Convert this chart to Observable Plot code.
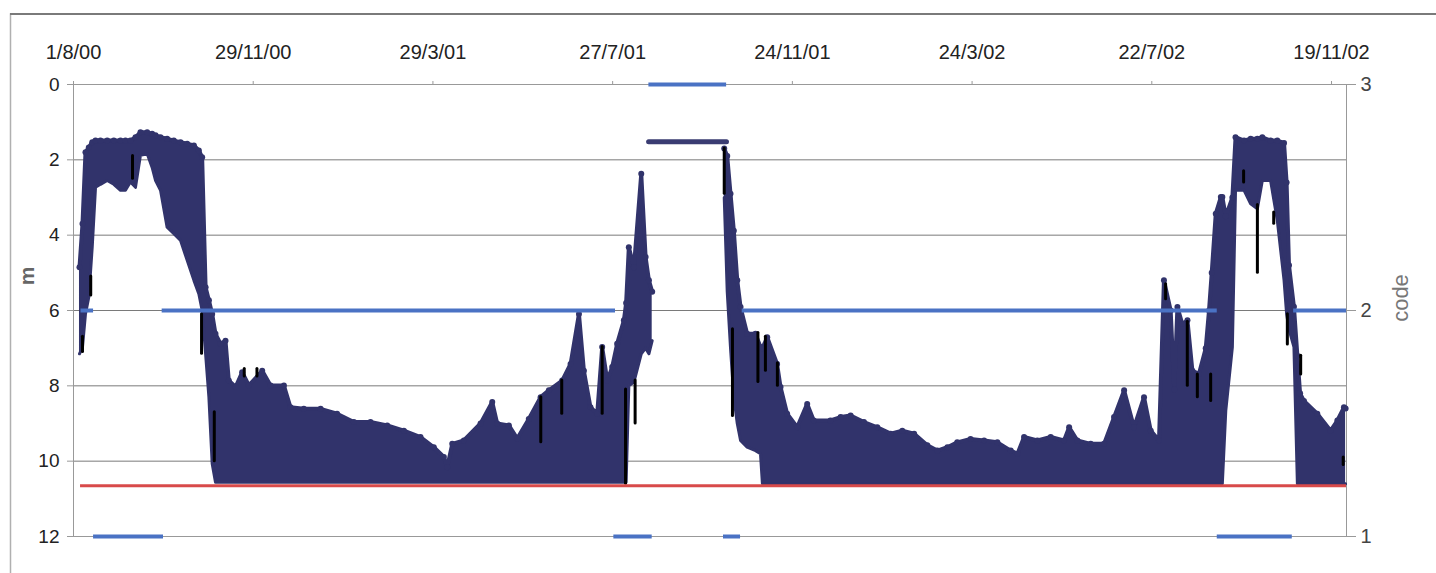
<!DOCTYPE html>
<html>
<head>
<meta charset="utf-8">
<script src="https://cdn.jsdelivr.net/npm/d3@7"></script>
<script src="https://cdn.jsdelivr.net/npm/@observablehq/plot@0.6"></script>
<style>
  html, body { margin: 0; padding: 0; background: #fff; }
  #chart { position: relative; width: 1436px; height: 573px; }
</style>
</head>
<body>
<div id="chart"></div>
<script>
// ---- data (days since 1/8/00, depth in m) ----
const tickLabels = ["1/8/00", "29/11/00", "29/3/01", "27/7/01", "24/11/01", "24/3/02", "22/7/02", "19/11/02"];
const yTicks = [0, 2, 4, 6, 8, 10, 12];
const codeTicks = [1, 2, 3];

const bandDay = [4, 6, 8, 10.2, 12.5, 14.7, 18, 22.5, 26.9, 31.4, 34.7, 38, 41.4, 44.7, 49.2, 52.5, 54.8, 58.1, 62.5, 67, 71.5, 75.9, 80.4, 83.7, 85.9, 88.2, 90.4, 92.6, 94.8, 98.2, 101.5, 103.7, 108.2, 112.6, 117.1, 126, 131.6, 140.5, 144.9, 153.8, 165, 176, 187.2, 198.3, 209.5, 220.6, 231.7, 240.6, 247.3, 249.5, 252.9, 260.6, 271.8, 279.6, 282.9, 290.7, 296.3, 304, 311.9, 317.4, 326.3, 331.9, 337.5, 340.8, 345.2, 349.7, 353, 356.4, 359.7, 363, 367.5, 369, 370.8, 374.2, 379.1, 382, 384.2, 386.4,
  410,
  434.5, 436.5, 438.7, 440.9, 443.2, 445.4, 449.8, 455.4, 458.7, 460, 463.2, 469.8, 472.1, 476.5, 483.2, 489.9, 494.3, 505.4, 512.2, 518.9, 527.8, 536.7, 545.6, 553.4, 561.3, 570.1, 576.8, 583.5, 590.1, 599, 608, 616.9, 625.8, 630.3, 634.7, 643.6, 652.5, 661.4, 664.8, 670.3, 679.2, 688.1, 694.8, 701.5, 708.1, 714.8, 719.3, 724.8, 728.1, 732.6, 735, 737.1, 740.4, 743.8, 747.1, 751.5, 756, 758.2, 760, 762.7, 766.1, 767.1, 769.4, 773.8, 775.9, 781.6, 786, 790.5, 793.8, 799.3, 803.8, 808.3, 810, 811.6, 814.9, 817.2, 819, 821.6, 830.5, 839.4, 843.9, 848.3, 849.4];
const bandTop = [4.85, 3.70, 1.80, 1.67, 1.53, 1.49, 1.49, 1.49, 1.49, 1.49, 1.49, 1.49, 1.40, 1.27, 1.27, 1.31, 1.35, 1.40, 1.44, 1.49, 1.53, 1.57, 1.62, 1.75, 1.93, 5.38, 5.73, 6.09, 6.62, 6.88, 6.8, 7.86, 8.03, 7.64, 7.99, 7.6, 7.99, 7.99, 8.57, 8.61, 8.61, 8.74, 8.96, 8.96, 9.05, 9.19, 9.36, 9.63, 9.89, 10.16, 9.54, 9.45, 9.0, 8.43, 9.0, 9.05, 9.4, 8.88, 8.30, 8.12, 7.86, 7.42, 6.09, 7.6, 8.57, 8.74, 6.97, 7.86, 7.5, 6.88, 6.26, 5.8, 4.32, 4.85, 2.37, 4.58, 5.2, 5.5,
  null,
  1.7, 1.9, 2.9, 3.88, 5.2, 5.91, 6.62, 6.62, 6.97, 7.0, 6.71, 7.42, 8.03, 8.74, 9.1, 8.48, 8.92, 8.92, 8.83, 8.79, 8.96, 9.1, 9.27, 9.19, 9.27, 9.58, 9.72, 9.63, 9.5, 9.41, 9.45, 9.5, 9.72, 9.8, 9.36, 9.45, 9.36, 9.45, 9.1, 9.45, 9.54, 9.54, 8.83, 8.12, 9.1, 8.3, 9.19, 9.45, 5.2, 6.0, 8.1, 5.91, 6.36, 6.26, 7.6, 7.68, 7.0, 6.0, 5.0, 3.43, 2.99, 2.99, 3.5, 3.0, 1.4, 1.49, 1.44, 1.44, 1.4, 1.49, 1.49, 1.55, 2.6, 4.8, 5.9, 7.2, 8.2, 8.4, 8.74, 9.19, 8.92, 8.57, 8.6];
const bandBottom = [7.15, 6.97, 6.09, 5.65, 4.32, 2.73, 2.65, 2.55, 2.65, 2.81, 2.81, 2.59, 2.73, 1.88, 1.84, 2.2, 2.55, 2.81, 3.79, 3.96, 4.14, 4.67, 5.2, 5.56, 6.0, 7.15, 8.3, 10.07, 10.56, 10.56, 10.56, 10.56, 10.56, 10.56, 10.56, 10.56, 10.56, 10.56, 10.56, 10.56, 10.56, 10.56, 10.56, 10.56, 10.56, 10.56, 10.56, 10.56, 10.56, 10.56, 10.56, 10.56, 10.56, 10.56, 10.56, 10.56, 10.56, 10.56, 10.56, 10.56, 10.56, 10.56, 10.56, 10.56, 10.56, 10.56, 10.56, 10.56, 10.56, 10.56, 10.56, 10.56, 8.0, 7.9, 7.15, 7.0, 7.15, 6.8,
  null,
  3.0, 5.5, 7.0, 8.3, 9.0, 9.45, 9.63, 9.72, 9.8, 10.6, 10.6, 10.6, 10.6, 10.6, 10.6, 10.6, 10.6, 10.6, 10.6, 10.6, 10.6, 10.6, 10.6, 10.6, 10.6, 10.6, 10.6, 10.6, 10.6, 10.6, 10.6, 10.6, 10.6, 10.6, 10.6, 10.6, 10.6, 10.6, 10.6, 10.6, 10.6, 10.6, 10.6, 10.6, 10.6, 10.6, 10.6, 10.6, 10.6, 10.6, 10.6, 10.6, 10.6, 10.6, 10.6, 10.6, 10.6, 10.6, 10.6, 10.6, 10.6, 10.6, 8.66, 6.97, 2.81, 2.81, 3.17, 3.3, 2.55, 2.55, 3.61, 5.2, 6.09, 6.5, 6.97, 10.6, 10.6, 10.6, 10.6, 10.6, 10.6, 10.6, 10.6];

// flat plateau reading during the logger gap
const flatDay = [384, 436];
const flatDepth = [1.52, 1.52];

// black point clusters
const blackDay = [6, 11.5, 39.4, 85.5, 94, 114, 122.5, 312, 326, 353, 368.6, 375, 434.5, 440, 457, 462, 470, 729.2, 743.7, 750.4, 759.3, 781.3, 790.5, 801.4, 810.5, 819.4, 847.8];
const blackTop = [6.7, 5.1, 1.9, 6.1, 8.7, 7.55, 7.55, 8.3, 7.86, 6.97, 8.1, 7.86, 1.7, 6.5, 6.6, 6.7, 7.4, 5.3, 6.3, 7.7, 7.7, 2.3, 3.2, 3.4, 6.1, 7.2, 9.9];
const blackBottom = [7.1, 5.6, 2.5, 7.15, 10.0, 7.75, 7.75, 9.5, 8.74, 8.74, 10.6, 9.0, 2.9, 8.8, 7.9, 7.6, 8.0, 5.7, 8.0, 8.3, 8.4, 2.6, 5.0, 3.7, 6.9, 7.7, 10.1];

// reference level (red)
const redStart = [4.7];
const redEnd = [850];
const redDepth = [10.65];

// code series (right axis)
const codeStart = [5, 13.4, 59.2, 360.8, 384.2, 434, 446.5, 763.7, 814.7];
const codeEnd = [13.4, 60.1, 361.9, 386.4, 436.1, 445.4, 763.7, 813.8, 850];
const codeValue = [2, 1, 2, 1, 3, 1, 2, 1, 2];

// ---- build ----
const start = new Date(Date.UTC(2000, 7, 1));
const toDate = d => new Date(start.getTime() + d * 864e5);
const parse = d3.utcParse("%d/%m/%y");
const tickDates = tickLabels.map(parse);
const labelOf = new Map(tickDates.map((d, i) => [d.getTime(), tickLabels[i]]));
const codeToDepth = c => (3 - c) * 6; // code 3 at 0 m, code 1 at 12 m
const depthToCode = new Map(codeTicks.map(c => [codeToDepth(c), c]));

const band = bandDay.map((d, i) => ({date: toDate(d), top: bandTop[i], bottom: bandBottom[i]}));
const flat = flatDay.map((d, i) => ({date: toDate(d), y: flatDepth[i]}));
const black = blackDay.map((d, i) => ({date: toDate(d), y1: blackTop[i], y2: blackBottom[i]}));
const red = redStart.map((d, i) => ({x1: toDate(d), x2: toDate(redEnd[i]), y: redDepth[i]}));
const codes = codeStart.map((d, i) => ({x1: toDate(d), x2: toDate(codeEnd[i]), y: codeToDepth(codeValue[i])}));

const navy = "#31336b";
const blue = "#4a72c4";

const chart = Plot.plot({
  width: 1436,
  height: 573,
  marginLeft: 73,
  marginRight: 90,
  marginTop: 84,
  marginBottom: 37,
  style: {fontFamily: "'Liberation Sans', Arial, sans-serif", fontSize: "19px", color: "#222", background: "#fff"},
  x: {type: "utc", domain: [start, toDate(850)]},
  y: {domain: [0, 12], reverse: true},
  marks: [
    Plot.ruleY(yTicks, {stroke: "#7a7a7a", strokeWidth: 1}),
    Plot.frame({stroke: "#999"}),
    Plot.areaY(band, {x: "date", y1: "bottom", y2: "top", fill: navy}),
    Plot.line(band, {x: "date", y: "top", stroke: navy, strokeWidth: 4, strokeLinejoin: "round", strokeLinecap: "round"}),
    Plot.line(band, {x: "date", y: "bottom", stroke: navy, strokeWidth: 3, strokeLinejoin: "round", strokeLinecap: "round"}),
    Plot.dot(band, {x: "date", y: "top", r: 3, fill: navy}),
    Plot.line(flat, {x: "date", y: "y", stroke: "#3a3c72", strokeWidth: 5, strokeLinecap: "round"}),
    Plot.ruleX(black, {x: "date", y1: "y1", y2: "y2", stroke: "#000", strokeWidth: 3, strokeLinecap: "round"}),
    Plot.ruleY(red, {x1: "x1", x2: "x2", y: "y", stroke: "#d84a4a", strokeWidth: 3}),
    Plot.ruleY(codes, {x1: "x1", x2: "x2", y: "y", stroke: blue, strokeWidth: 4}),
    Plot.axisX(tickDates, {anchor: "top", tickSize: 4, tickPadding: 22, stroke: "#999", tickFormat: d => labelOf.get(d.getTime()), label: null, fontSize: 20}),
    Plot.axisY(yTicks, {anchor: "left", tickSize: 6, tickPadding: 8, stroke: "#999", label: null, fontSize: 19}),
    Plot.axisY(codeTicks.map(codeToDepth), {anchor: "right", tickSize: 9, tickPadding: 5, stroke: "#999", tickFormat: d => depthToCode.get(d), label: null, fontSize: 20, fill: "#444"})
  ]
});

const svg = d3.select(chart);
svg.insert("rect", ":first-child").attr("x", 10.5).attr("y", 14).attr("width", 1440).attr("height", 570)
  .attr("fill", "none").attr("stroke", "#b0b0b0").attr("stroke-width", 1.5);
svg.append("line").attr("x1", 10).attr("x2", 1436).attr("y1", 14).attr("y2", 14).attr("stroke", "#7a7a7a").attr("stroke-width", 2);
svg.append("text").attr("transform", "translate(34,276) rotate(-90)").attr("text-anchor", "middle")
  .attr("font-size", 21).attr("font-weight", "bold").attr("fill", "#666").text("m");
svg.append("text").attr("transform", "translate(1408,298) rotate(-90)").attr("text-anchor", "middle")
  .attr("font-size", 22).attr("fill", "#777").text("code");

document.getElementById("chart").appendChild(chart);
</script>
</body>
</html>
